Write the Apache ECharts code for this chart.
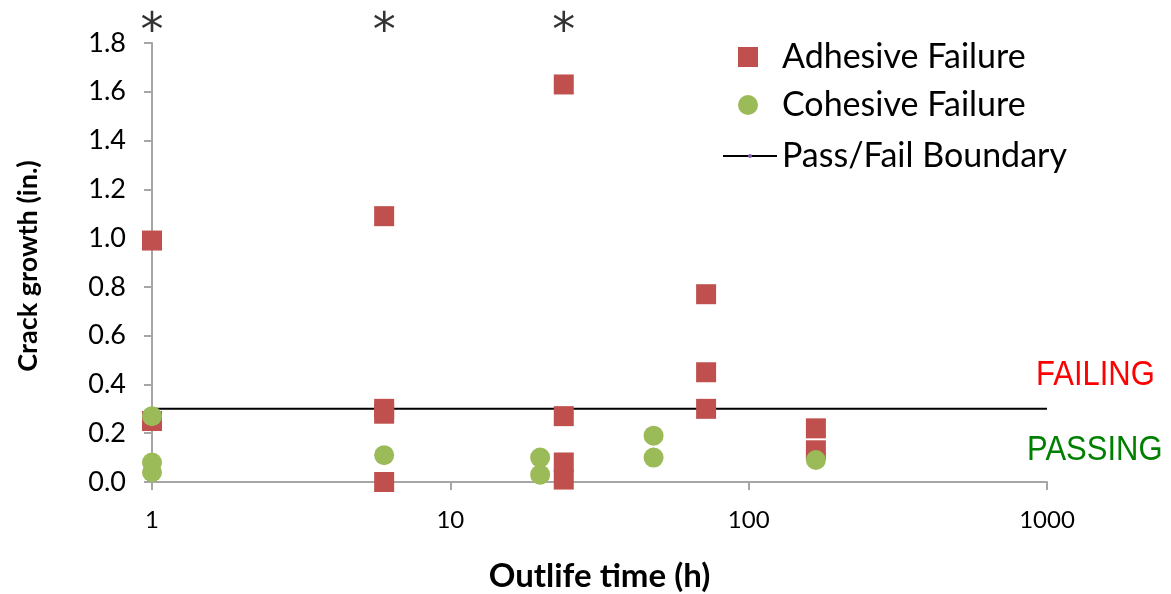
<!DOCTYPE html>
<html>
<head>
<meta charset="utf-8">
<script src="https://cdn.jsdelivr.net/npm/echarts@6/dist/echarts.min.js"></script>
<style>
html,body{margin:0;padding:0;background:#fff;}
#chart{width:1171px;height:594px;}
</style>
</head>
<body>
<div id="chart"></div>
<script>
// Data (x = outlife time in hours, y = crack growth in inches)
var adhesiveX = [1, 1, 6, 6, 6, 6, 24, 24, 24, 24, 72, 72, 72, 168, 168];
var adhesiveY = [0.99, 0.25, 1.09, 0.30, 0.28, 0.00, 1.63, 0.27, 0.08, 0.01, 0.77, 0.45, 0.30, 0.22, 0.13];
var cohesiveX = [1, 1, 1, 6, 20, 20, 48, 48, 168];
var cohesiveY = [0.27, 0.08, 0.04, 0.11, 0.10, 0.03, 0.19, 0.10, 0.09];
var boundaryX = [1, 1000];
var boundaryY = [0.3, 0.3];
var asteriskX = [1, 6, 24];
var asteriskLevel = 1.9;
var xTicks = [1, 10, 100, 1000];
var yMin = 0, yMax = 1.8, yStep = 0.2;

function zip(xs, ys) { return xs.map(function (x, i) { return [x, ys[i]]; }); }

var FONT = 'Lato';
var chart = echarts.init(document.getElementById('chart'), null, {renderer: 'canvas'});
chart.setOption({
  animation: false,
  backgroundColor: '#ffffff',
  grid: {left: 152, right: 124, top: 43, bottom: 112, containLabel: false, outerBoundsMode: 'none'},
  legend: [{
    orient: 'vertical',
    left: 738, top: 40, padding: 0,
    itemWidth: 20, itemHeight: 20, itemGap: 14,
    data: [{name: 'Adhesive Failure', icon: 'rect'}, {name: 'Cohesive Failure', icon: 'circle'}],
    textStyle: {fontFamily: FONT, fontSize: 34, lineHeight: 34, color: '#000', padding: [0, 0, 0, 19]}
  }, {
    orient: 'vertical',
    left: 722, top: 139, padding: 0,
    itemWidth: 54, itemHeight: 5,
    data: [{name: 'Pass/Fail Boundary', itemStyle: {color: '#7f60a8'}}],
    textStyle: {fontFamily: FONT, fontSize: 34, lineHeight: 34, color: '#000'}
  }],
  xAxis: {
    type: 'log', logBase: 10, min: 1, max: 1000,
    name: 'Outlife time (h)', nameLocation: 'middle', nameGap: 78,
    nameTextStyle: {fontFamily: FONT, fontSize: 33, fontWeight: 'bold', color: '#000'},
    axisLine: {lineStyle: {color: '#a6a6a6', width: 2}},
    axisTick: {show: true, length: 8, lineStyle: {color: '#a6a6a6', width: 2}},
    minorTick: {show: false},
    splitLine: {show: false},
    axisLabel: {fontFamily: FONT, fontSize: 24, color: '#000', margin: 26,
      formatter: function (v) { return xTicks.indexOf(Math.round(v)) >= 0 ? String(Math.round(v)) : ''; }}
  },
  yAxis: {
    type: 'value', min: yMin, max: yMax, interval: yStep,
    axisLine: {show: true, lineStyle: {color: '#a6a6a6', width: 2}},
    axisTick: {show: true, length: 8, lineStyle: {color: '#a6a6a6', width: 2}},
    splitLine: {show: false},
    axisLabel: {fontFamily: FONT, fontSize: 27, color: '#000', margin: 26,
      formatter: function (v) { return v.toFixed(1); }}
  },
  series: [{
    name: 'Pass/Fail Boundary', type: 'line', data: zip(boundaryX, boundaryY),
    symbol: 'none', lineStyle: {color: '#000', width: 2}, itemStyle: {color: '#000'}, z: 1
  }, {
    name: 'Adhesive Failure', type: 'scatter', data: zip(adhesiveX, adhesiveY),
    symbol: 'rect', symbolSize: 20, itemStyle: {color: '#C0504D', opacity: 1}, z: 3
  }, {
    name: 'Cohesive Failure', type: 'scatter', data: zip(cohesiveX, cohesiveY),
    symbol: 'circle', symbolSize: 20, itemStyle: {color: '#9BBB59', opacity: 1}, z: 4
  }, {
    name: 'asterisks', type: 'scatter', clip: false,
    data: asteriskX.map(function (x) { return [x, asteriskLevel]; }),
    symbolSize: 0, silent: true,
    label: {show: true, position: 'inside', formatter: '*', fontFamily: 'DejaVu Sans', fontSize: 46, color: '#000', offset: [0, 14]}
  }],
  graphic: [{
    type: 'text', x: 28, y: 266, rotation: Math.PI / 2,
    style: {text: 'Crack growth (in.)', fontFamily: FONT, fontSize: 27, fontWeight: 'bold', fill: '#000',
      align: 'center', verticalAlign: 'middle'}
  }, {
    type: 'text', x: 1036, y: 375, scaleY: 1.12,
    style: {text: 'FAILING', fontFamily: 'Liberation Sans', fontSize: 31, fill: '#ff0000', verticalAlign: 'middle'}
  }, {
    type: 'text', x: 1027, y: 450, scaleY: 1.12,
    style: {text: 'PASSING', fontFamily: 'Liberation Sans', fontSize: 31, fill: '#008000', verticalAlign: 'middle'}
  }]
});
</script>
</body>
</html>
